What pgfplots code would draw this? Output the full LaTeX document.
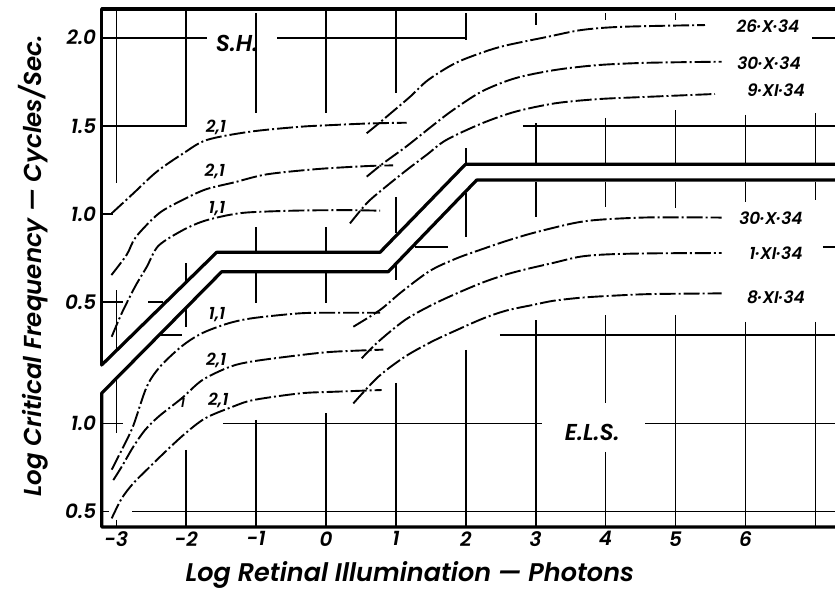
\documentclass[border=0pt]{standalone}
\usepackage{fontspec}
\setmainfont{Poppins}[BoldItalicFont={Poppins SemiBold Italic}]
\usepackage{pgfplots}
\pgfplotsset{compat=1.18}
\begin{document}
\begin{tikzpicture}
\pgfplotsset{
  base/.style={scale only axis, width=733.3pt, height=518.0pt,
    xmin=-3.209, xmax=7.282, clip=false,
    axis line style={draw=none}, major tick style={draw=none}, minor tick style={draw=none},
    at={(0,0)}, anchor=south west,
    ticklabel style={font=\fontsize{20}{22}\selectfont\bfseries\itshape},
    yticklabel style={xshift=-2pt},
    xticklabel style={yshift=-1pt}},
  curve/.style={black, line width=1.9pt, smooth, tension=0.5,
    dash pattern=on 16pt off 3pt on 2pt off 3pt},
  gridseg/.style={black, line width=1.6pt, unbounded coords=jump},
  heavy/.style={black, line width=3.2pt, line join=round, line cap=round},
}
\tikzset{
  lab/.style={font=\fontsize{17}{19}\selectfont\bfseries\itshape, inner sep=0pt},
  big/.style={font=\fontsize{23}{26}\selectfont\bfseries\itshape, inner sep=0pt},
}
% ---------------- upper panel: S.H. ----------------
\begin{axis}[base, ymin=-0.775, ymax=2.163,
  xtick={-3,-2,-1,0,1,2,3,4,5,6}, xticklabels={-3,-2,-1,0,1,2,3,4,5,6},
  ytick={0.5,1.0,1.5,2.0}, yticklabels={0.5,1.0,1.5,2.0}]
\coordinate (BL) at (rel axis cs:0,0);
\coordinate (TR) at (rel axis cs:1,1);
% frame
\addplot[heavy] coordinates {(-3.209,0.144) (-3.209,2.163) (7.282,2.163)};
\addplot[heavy] coordinates {(-3.209,0.144) (-1.564,0.783) (0.773,0.783) (1.995,1.282) (7.282,1.282)};
% grid pieces
\addplot[gridseg] coordinates {
 (-3,2.157) (-3,1.176) (nan,nan) (-3,0.568) (-3,0.228) (nan,nan)
 (-2,2.157) (-2,1.493) (nan,nan) (-2,0.722) (-2,0.620) (nan,nan)
 (-1,2.140) (-1,1.573) (nan,nan) (-1,0.926) (-1,0.787) (nan,nan)
 (0,2.157) (0,1.573) (nan,nan) (0,0.926) (0,0.787) (nan,nan)
 (1,2.157) (1,1.686) (nan,nan) (1,1.096) (1,0.892) (nan,nan)
 (2,2.140) (2,1.987) (nan,nan) (2,1.374) (2,1.282) (nan,nan)
 (3,2.140) (3,2.072) (nan,nan) (3,1.516) (3,1.282) (nan,nan)
 (4,2.140) (4,2.100) (nan,nan) (4,1.545) (4,1.282) (nan,nan)
 (5,2.140) (5,2.100) (nan,nan) (5,1.590) (5,1.282) (nan,nan)
 (6,1.562) (6,1.282) (nan,nan)
 (7,1.573) (7,1.282) (nan,nan)
 (-3.209,2.0) (-1.699,2.0) (nan,nan) (-0.701,2.0) (1.989,2.0) (nan,nan) (6.953,2.0) (7.282,2.0) (nan,nan)
 (-3.209,1.5) (-2.017,1.5) (nan,nan) (2.818,1.5) (7.282,1.5) (nan,nan)
 (-3.209,1.0) (-3.043,1.0) (nan,nan)
 (-3.209,0.5) (-2.904,0.5) (nan,nan) (-2.546,0.5) (-2.331,0.5)
};
% curves
\addplot[curve] coordinates {(-3.066,1.004) (-2.757,1.117) (-2.422,1.240) (-2.042,1.344) (-1.707,1.420) (-1.087,1.467) (-0.372,1.495) (0.104,1.505) (0.629,1.514) (1.155,1.518)};
\addplot[curve] coordinates {(-3.07,0.654) (-2.85,0.77) (-2.72,0.87) (-2.39,1.004) (-2.05,1.08) (-1.72,1.14) (-1.31,1.18) (-0.85,1.225) (-0.13,1.255) (0.58,1.272) (0.96,1.276)};
\addplot[curve] coordinates {(-3.066,0.304) (-2.923,0.437) (-2.732,0.588) (-2.565,0.70) (-2.397,0.82) (-2.042,0.91) (-1.75,0.96) (-1.398,0.994) (-1.087,1.01) (-0.37,1.02) (0.343,1.022) (0.773,1.019)};
\addplot[curve] coordinates {(0.582,1.458) (0.773,1.52) (0.891,1.56) (1.202,1.665) (1.46,1.76) (1.845,1.855) (2.228,1.915) (2.561,1.955) (3.18,2.006) (3.658,2.044) (4.23,2.062) (5.422,2.072)};
\addplot[curve] coordinates {(0.582,1.212) (0.820,1.288) (1.155,1.385) (1.488,1.49) (1.80,1.585) (2.228,1.695) (2.704,1.770) (3.276,1.817) (3.896,1.845) (4.611,1.858) (5.661,1.864)};
\addplot[curve] coordinates {(0.343,0.947) (0.582,1.061) (0.797,1.136) (1.155,1.250) (1.441,1.336) (1.72,1.42) (2.228,1.514) (2.704,1.580) (3.276,1.628) (3.896,1.652) (4.611,1.665) (5.565,1.681)};
% labels
\node[big] at (axis cs:-1.273,1.97) {S.H.};
\node[lab] at (axis cs:-1.574,1.49) {2,1};
\node[lab] at (axis cs:-1.59,1.243) {2,1};
\node[lab] at (axis cs:-1.56,1.03) {1,1};
\node[lab] at (axis cs:6.323,2.066) {26·X·34};
\node[lab] at (axis cs:6.338,1.856) {30·X·34};
\node[lab] at (axis cs:6.438,1.700) {9·XI·34};
\node[font=\fontsize{25.5}{28}\selectfont\bfseries\itshape] at (axis cs:1.20,-1.048) {Log Retinal Illumination — Photons};
\node[font=\fontsize{24.5}{27}\selectfont\bfseries\itshape, rotate=90] at (axis cs:-4.19,0.705) {Log Critical Frequency — Cycles/Sec.};
\end{axis}
% ---------------- lower panel: E.L.S. ----------------
\begin{axis}[base, ymin=0.412, ymax=3.350,
  xtick=\empty, ytick={0.5,1.0}, yticklabels={0.5,1.0}]
\addplot[heavy] coordinates {(7.282,0.412) (-3.209,0.412) (-3.209,1.171) (-1.492,1.860) (0.891,1.860) (2.156,2.380) (7.282,2.380)};
\addplot[gridseg] coordinates {
 (-3,1.257) (-3,0.945) (nan,nan) (-3,0.452) (-3,0.412) (nan,nan)
 (-2,1.660) (-2,1.546) (nan,nan) (-2,0.849) (-2,0.412) (nan,nan)
 (-1,1.860) (-1,1.682) (nan,nan) (-1,1.019) (-1,0.412) (nan,nan)
 (0,1.860) (0,1.682) (nan,nan) (0,1.058) (0,0.412) (nan,nan)
 (1,1.909) (1,1.813) (nan,nan) (1,1.229) (1,0.412) (nan,nan)
 (2,2.307) (2,2.057) (nan,nan) (2,1.416) (2,0.412) (nan,nan)
 (3,2.369) (3,2.170) (nan,nan) (3,1.586) (3,0.412) (nan,nan)
 (4,2.369) (4,2.227) (nan,nan) (4,1.614) (4,1.115) (nan,nan) (4,0.838) (4,0.412) (nan,nan)
 (5,2.369) (5,2.221) (nan,nan) (5,1.614) (5,0.412) (nan,nan)
 (6,2.369) (6,2.255) (nan,nan) (6,1.575) (6,0.412) (nan,nan)
 (7,2.369) (7,2.267) (nan,nan) (7,1.575) (7,0.412) (nan,nan)
 (1.273,2.0) (1.745,2.0) (nan,nan) (7.11,2.0) (7.282,2.0) (nan,nan)
 (-2.375,1.5) (-2.064,1.5) (nan,nan) (2.489,1.5) (7.282,1.5) (nan,nan)
 (-3.209,1.0) (-2.904,1.0) (nan,nan) (-1.474,1.0) (3.090,1.0) (nan,nan) (4.564,1.0) (7.282,1.0) (nan,nan)
 (-3.209,0.5) (-3.11,0.5) (nan,nan) (-2.775,0.5) (7.282,0.5)
};
\addplot[curve] coordinates {(-3.066,0.737) (-2.90,0.867) (-2.757,0.987) (-2.565,1.207) (-2.375,1.321) (-2.064,1.437) (-1.779,1.510) (-1.398,1.567) (-1.04,1.597) (-0.37,1.624) (0.104,1.627) (0.773,1.627)};
\addplot[curve] coordinates {(-3.043,0.678) (-2.923,0.754) (-2.757,0.867) (-2.589,0.962) (-2.39,1.040) (-2.064,1.142) (-1.77,1.245) (-1.373,1.321) (-1.04,1.352) (-0.37,1.387) (0.104,1.406) (0.82,1.418)};
\addplot[curve] coordinates {(-3.066,0.461) (-2.923,0.574) (-2.757,0.660) (-2.542,0.745) (-2.375,0.810) (-2.042,0.933) (-1.731,1.028) (-1.349,1.092) (-1.04,1.132) (-0.37,1.170) (0.104,1.179) (0.797,1.189)};
\addplot[curve] coordinates {(0.391,1.548) (0.773,1.643) (1.083,1.746) (1.488,1.865) (1.870,1.936) (2.250,1.99) (2.585,2.035) (2.966,2.08) (3.538,2.135) (3.920,2.155) (4.635,2.168) (5.661,2.167)};
\addplot[curve] coordinates {(0.511,1.369) (0.748,1.463) (1.130,1.586) (1.512,1.671) (1.870,1.737) (2.250,1.800) (2.585,1.845) (2.871,1.875) (3.252,1.910) (3.634,1.945) (4.016,1.958) (4.635,1.964) (5.661,1.966)};
\addplot[curve] coordinates {(0.391,1.113) (0.748,1.264) (1.130,1.378) (1.512,1.463) (1.870,1.529) (2.250,1.595) (2.585,1.640) (2.966,1.672) (3.252,1.695) (3.634,1.712) (4.016,1.722) (4.635,1.733) (5.661,1.737)};
\node[big] at (axis cs:3.81,0.95) {E.L.S.};
\node[lab] at (axis cs:-1.56,1.614) {1,1};
\node[lab] at (axis cs:-1.57,1.359) {2,1};
\node[lab] at (axis cs:-1.54,1.132) {2,1};
\node[lab, font=\fontsize{13}{15}\selectfont\bfseries\itshape] at (axis cs:-2.05,1.115) {1};
\node[lab] at (axis cs:6.366,2.164) {30·X·34};
\node[lab] at (axis cs:6.438,1.965) {1·XI·34};
\node[lab] at (axis cs:6.438,1.715) {8·XI·34};
\end{axis}
\pgfresetboundingbox
\path[use as bounding box] ([xshift=-101.7pt,yshift=-62pt]BL) rectangle ([yshift=9pt]TR);
\end{tikzpicture}
\end{document}
